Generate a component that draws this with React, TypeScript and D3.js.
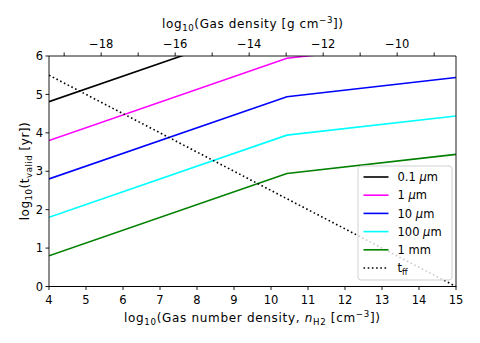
import React from "react";
import * as d3 from "d3";

const nH2 = [4, 10.43, 15];
const seriesNames = ["0.1 μm", "1 μm", "10 μm", "100 μm", "1 mm"];
const t01um = [4.81, 6.95, 7.45];
const t1um = [3.8, 5.94, 6.44];
const t10um = [2.8, 4.94, 5.44];
const t100um = [1.8, 3.94, 4.44];
const t1mm = [0.8, 2.94, 3.44];
const tffX = [4, 15];
const tffY = [5.5, 0];
const bottomTicks = [4, 5, 6, 7, 8, 9, 10, 11, 12, 13, 14, 15];
const leftTicks = [0, 1, 2, 3, 4, 5, 6];
const topTicks = [-19, -18, -17, -16, -15, -14, -13, -12, -11, -10, -9];
const densityOffset = -23.41; // log10(mu * m_H), mu = 2.33

const colors = ["#000000", "#ff00ff", "#0000ff", "#00ffff", "#008000"];
const seriesValues = [t01um, t1um, t10um, t100um, t1mm];

const W = 480, H = 343;
const L = 49, R = 456, T = 56, B = 286.5;
const FONT = "DejaVu Sans, sans-serif";
const FS = 11.5;
const LFS = 12;

export default function App() {
  const x = d3.scaleLinear().domain([4, 15]).range([L, R]);
  const y = d3.scaleLinear().domain([0, 6]).range([B, T]);
  const xTop = d3.scaleLinear().domain([4 + densityOffset, 15 + densityOffset]).range([L, R]);
  const line = d3.line<[number, number]>().x((d) => x(d[0])).y((d) => y(d[1]));

  const legendX = 358, legendY = 166, legendW = 94, legendH = 114;
  const rowY = (i: number) => 177 + i * 18.2;

  const muLabel = (name: string) => {
    const parts = name.split("μ");
    if (parts.length === 1) return <>{name}</>;
    return (
      <>
        {parts[0]}
        <tspan fontStyle="italic">μ</tspan>
        {parts[1]}
      </>
    );
  };

  return (
    <div style={{ position: "absolute", left: 0, top: 0 }}>
      <svg width={W} height={H} style={{ display: "block" }} fontFamily={FONT}>
        <rect x={0} y={0} width={W} height={H} fill="#fff" />
        <defs>
          <clipPath id="plotclip">
            <rect x={L} y={T} width={R - L} height={B - T} />
          </clipPath>
        </defs>
        <g clipPath="url(#plotclip)">
          {seriesValues.map((vals, i) => (
            <path
              key={i}
              d={line(nH2.map((n, j) => [n, vals[j]] as [number, number])) || ""}
              fill="none"
              stroke={colors[i]}
              strokeWidth={1.6}
            />
          ))}
          <path
            d={line(tffX.map((n, j) => [n, tffY[j]] as [number, number])) || ""}
            fill="none"
            stroke="#000"
            strokeWidth={1.6}
            strokeDasharray="1.6,2.6"
          />
        </g>

        {/* spines */}
        <line x1={L} x2={L} y1={T} y2={B} stroke="#000" strokeWidth={0.9} />
        <line x1={R} x2={R} y1={T} y2={B} stroke="#000" strokeWidth={0.9} />
        <line x1={L} x2={R} y1={T} y2={T} stroke="#000" strokeWidth={0.9} />
        <line x1={L - 0.5} x2={R + 0.5} y1={B} y2={B} stroke="#000" strokeWidth={1} />

        {/* bottom ticks */}
        {bottomTicks.map((t) => (
          <g key={"b" + t}>
            <line x1={x(t)} x2={x(t)} y1={B} y2={B + 3.5} stroke="#000" strokeWidth={0.9} />
            <text x={x(t)} y={304} fontSize={FS} textAnchor="middle" fill="#000">
              {t}
            </text>
          </g>
        ))}
        {/* left ticks */}
        {leftTicks.map((t) => (
          <g key={"l" + t}>
            <line x1={L - 3.5} x2={L} y1={y(t)} y2={y(t)} stroke="#000" strokeWidth={0.9} />
            <text x={L - 6} y={y(t) + 4.2} fontSize={FS} textAnchor="end" fill="#000">
              {t}
            </text>
          </g>
        ))}
        {/* top ticks */}
        {topTicks.map((t) => (
          <g key={"t" + t}>
            <line x1={xTop(t)} x2={xTop(t)} y1={T} y2={T - 3.5} stroke="#000" strokeWidth={0.9} />
            {t % 2 === 0 ? (
              <text x={xTop(t)} y={48.3} fontSize={FS} textAnchor="middle" fill="#000">
                {"\u2212" + Math.abs(t)}
              </text>
            ) : null}
          </g>
        ))}

        {/* axis labels */}
        <text
          x={124}
          y={321.5}
          fontSize={LFS}
          textLength={256}
          lengthAdjust="spacing"
          fill="#000"
        >
          log<tspan fontSize={LFS * 0.72} dy={3}>10</tspan>
          <tspan dy={-3}>(Gas number density, </tspan>
          <tspan fontStyle="italic">n</tspan>
          <tspan fontSize={LFS * 0.72} dy={3}>H2</tspan>
          <tspan dy={-3}> [cm</tspan>
          <tspan fontSize={LFS * 0.72} dy={-5}>{"\u22123"}</tspan>
          <tspan dy={5}>])</tspan>
        </text>
        <text x={162} y={27.5} fontSize={LFS} textLength={181} lengthAdjust="spacing" fill="#000">
          log<tspan fontSize={LFS * 0.72} dy={3}>10</tspan>
          <tspan dy={-3}>(Gas density [g cm</tspan>
          <tspan fontSize={LFS * 0.72} dy={-5}>{"\u22123"}</tspan>
          <tspan dy={5}>])</tspan>
        </text>
        <text
          transform={`translate(29,${(T + B) / 2 + 49}) rotate(-90)`}
          fontSize={LFS}
          textLength={98}
          lengthAdjust="spacing"
          fill="#000"
        >
          log<tspan fontSize={LFS * 0.72} dy={3}>10</tspan>
          <tspan dy={-3}>(t</tspan>
          <tspan fontSize={LFS * 0.72} dy={3}>valid</tspan>
          <tspan dy={-3}> [yr])</tspan>
        </text>

        {/* legend */}
        <rect
          x={legendX}
          y={legendY}
          width={legendW}
          height={legendH}
          rx={3}
          fill="#fff"
          fillOpacity={0.8}
          stroke="#cccccc"
          strokeWidth={0.9}
        />
        {seriesNames.map((name, i) => (
          <g key={"lg" + i}>
            <line x1={363.5} x2={388.5} y1={rowY(i)} y2={rowY(i)} stroke={colors[i]} strokeWidth={1.6} />
            <text x={397.5} y={rowY(i) + 4.2} fontSize={FS} fill="#000">
              {muLabel(name)}
            </text>
          </g>
        ))}
        <line
          x1={363.5}
          x2={388.5}
          y1={rowY(5)}
          y2={rowY(5)}
          stroke="#000"
          strokeWidth={1.6}
          strokeDasharray="1.6,2.6"
        />
        <text x={397.5} y={rowY(5) + 4.2} fontSize={FS} fill="#000">
          t<tspan fontSize={FS * 0.7} dy={3}>ff</tspan>
        </text>
      </svg>
    </div>
  );
}
